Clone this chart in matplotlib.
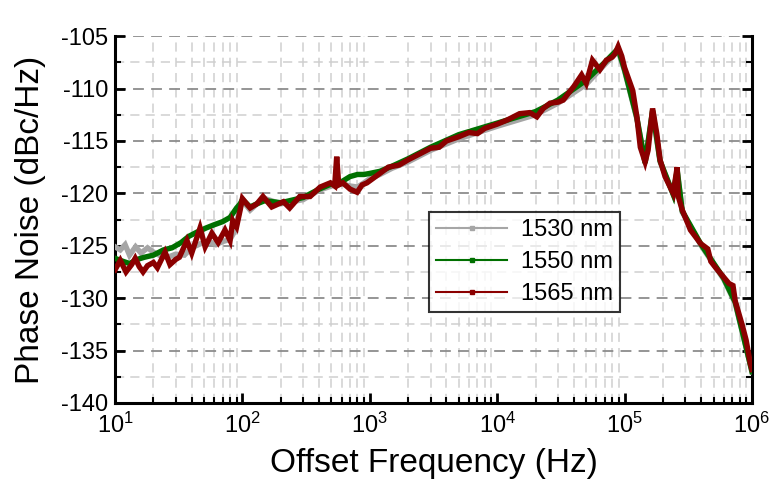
import numpy as np
import matplotlib
matplotlib.use("Agg")
import matplotlib.pyplot as plt
from matplotlib.lines import Line2D
from matplotlib.ticker import LogLocator, MultipleLocator, NullFormatter

plt.rcParams['font.family'] = ['Liberation Sans', 'DejaVu Sans']
plt.rcParams['mathtext.fontset'] = 'custom'
plt.rcParams['mathtext.rm'] = 'Liberation Sans'
plt.rcParams['mathtext.it'] = 'Liberation Sans'
plt.rcParams['axes.unicode_minus'] = False

# 1565 nm trace
f_1565 = [10, 11, 12.2, 13.5, 14.4, 15.5, 16.6, 18, 20, 21.5, 24.7, 27, 30, 32, 36.7,
          40, 46.5, 51, 57.6, 64.5, 73, 80, 84, 90, 96, 100, 115, 130, 145, 170,
          210, 235, 282, 340, 408, 490, 530, 550, 570, 615, 700, 795, 870, 950,
          1200, 1400, 1700, 2000, 2500, 3000, 3500, 4000, 5000, 6000, 7000, 8000,
          10000, 12000, 15000, 18000, 20500, 23000, 26000, 30000, 33000, 36000,
          40000, 46000, 50000, 56000, 64000, 72000, 80000, 84000, 89000, 95000,
          100000, 116000, 125000, 133000, 145000, 153000, 166000, 179000, 190000,
          208000, 228000, 241000, 259000, 264000, 284000, 329000, 396000, 450000,
          476000, 520000, 600000, 660000, 710000, 740000, 840000, 900000, 970000, 1000000]
pn_1565 = [-127.3, -126.4, -127.5, -126.8, -126.2, -127.0, -127.5, -126.9, -126.6, -127.1,
           -125.6, -126.8, -126.3, -126.1, -124.5, -125.7, -123.3, -125.1, -123.8, -124.7,
           -123.5, -124.5, -122.6, -123.2, -121.6, -120.5, -121.4, -121.0, -120.3, -121.3,
           -120.8, -121.4, -120.3, -120.3, -119.4, -119.0, -119.3, -116.5, -119.2, -119.0,
           -119.6, -119.9, -119.2, -119.0, -118.1, -117.5, -117.3, -116.8, -116.2, -115.7,
           -115.6, -115.0, -114.6, -114.2, -114.3, -113.8, -113.4, -113.0, -112.4, -112.3,
           -112.7, -111.9, -111.4, -111.3, -111.1, -110.5, -109.8, -108.7, -109.5, -107.3,
           -108.2, -107.3, -107.0, -106.7, -106.0, -106.9, -108.0, -110.2, -112.7, -115.6,
           -117.0, -115.9, -111.9, -114.3, -116.8, -118.4, -119.4, -120.0, -117.5, -120.3,
           -121.6, -123.5, -124.8, -125.3, -126.5, -127.1, -128.0, -128.6, -128.8, -130.3,
           -132.6, -134.0, -136.2, -136.8]

# 1550 nm trace
f_1550 = [10, 11, 13, 15, 17, 20, 24, 28, 33, 38, 44, 52, 60, 70, 80, 90, 96, 100,
          115, 130, 150, 200, 300, 400, 500, 600, 700, 800, 900, 1000, 1200, 1500,
          2000, 3000, 5000, 10000, 20000, 30000, 50000, 70000, 89000, 100000,
          125000, 145000, 166000, 190000, 241000, 259000, 284000, 400000, 600000,
          740000, 1000000]
pn_1550 = [-126.2, -126.4, -126.7, -126.3, -126.1, -125.9, -125.4, -125.2, -124.7, -124.1,
           -123.7, -123.3, -123.0, -122.7, -122.3, -121.4, -121.0, -120.6, -121.3, -121.0,
           -120.7, -120.9, -120.4, -119.6, -119.1, -118.9, -118.4, -118.2, -118.2, -118.1,
           -117.9, -117.4, -116.7, -115.6, -114.4, -113.3, -112.2, -111.1, -109.2, -107.5,
           -106.2, -108.2, -112.8, -117.1, -112.1, -116.9, -120.1, -117.8, -121.7, -124.9,
           -128.1, -130.4, -137.0]

# 1530 nm trace
f_1530 = [10, 11, 12, 13, 14.5, 16, 18, 20, 23, 26, 30, 35, 40, 47, 55, 62, 70, 80,
          88, 96, 100, 115, 130, 150, 200, 300, 400, 500, 600, 700, 800, 900, 1000,
          1200, 1500, 2000, 3000, 5000, 10000, 20000, 30000, 50000, 70000, 89000,
          100000, 125000, 145000, 166000, 190000, 241000, 259000, 284000, 400000,
          600000, 740000, 1000000]
pn_1530 = [-125.1, -125.4, -124.9, -125.9, -125.1, -125.7, -125.2, -125.6, -126.0, -126.1,
           -125.8, -125.9, -125.2, -124.8, -124.6, -124.9, -124.6, -124.4, -123.5, -121.3,
           -120.7, -121.6, -121.0, -120.5, -121.0, -120.6, -119.7, -119.3, -119.1, -119.3,
           -119.4, -119.0, -118.6, -118.2, -117.6, -117.0, -115.9, -114.8, -113.6, -112.5,
           -111.4, -109.6, -107.7, -106.4, -108.3, -112.9, -117.1, -112.2, -117.0, -120.1,
           -117.9, -121.8, -125.0, -128.2, -130.5, -137.0]

labels = ["1530 nm", "1550 nm", "1565 nm"]
colors = ["#a6a6a6", "#007000", "#8b0000"]

fig = plt.figure(figsize=(7.72, 4.95), dpi=100)
ax = fig.add_axes([0.149, 0.186, 0.825, 0.741])

series = [(f_1530, pn_1530), (f_1550, pn_1550), (f_1565, pn_1565)]
for (f, pn), c in zip(series, colors):
    ax.plot(f, pn, color=c, lw=3.9, solid_joinstyle='miter', zorder=3)

ax.set_xscale('log')
ax.set_xlim(10, 1e6)
ax.set_ylim(-140, -105)
ax.yaxis.set_major_locator(MultipleLocator(5))
ax.yaxis.set_minor_locator(MultipleLocator(2.5))
ax.xaxis.set_major_locator(LogLocator(base=10, numticks=10))
ax.xaxis.set_minor_locator(LogLocator(base=10, subs=np.arange(2, 10), numticks=20))
ax.xaxis.set_minor_formatter(NullFormatter())

ax.grid(which='major', axis='y', color='#8c8c8c', ls=(0, (6, 4)), lw=1.3, zorder=0)
ax.grid(which='minor', axis='y', color='#cfcfcf', ls=(0, (6, 4)), lw=1.1, zorder=0)
ax.grid(which='minor', axis='x', color='#cfcfcf', ls=(0, (6, 4)), lw=1.1, zorder=0)

ax.spines['top'].set_visible(False)
for s in ['left', 'right', 'bottom']:
    ax.spines[s].set_linewidth(2.2)

ax.tick_params(which='both', direction='in', left=True, right=True, top=False,
               bottom=True, labelsize=17)
ax.tick_params(which='major', length=7, width=2)
ax.tick_params(which='minor', length=4, width=1.5)
ax.tick_params(axis='x', which='major', pad=7)
ax.tick_params(axis='y', which='major', pad=5)

ax.set_xlabel("Offset Frequency (Hz)", fontsize=24, labelpad=7)
ax.set_ylabel("Phase Noise (dBc/Hz)", fontsize=24, labelpad=11)

handles = [Line2D([], [], color=c, lw=1.5, marker='s', ms=2.5) for c in colors]
leg = ax.legend(handles, labels, loc='upper left', bbox_to_anchor=(0.493, 0.52),
                fontsize=17, frameon=True, fancybox=False, edgecolor='black',
                handlelength=3.0, handletextpad=0.6, borderpad=0.3,
                labelspacing=0.42, borderaxespad=0)
leg.get_frame().set_linewidth(1.5)
leg.set_zorder(5)

fig.savefig("out.png", dpi=100)
